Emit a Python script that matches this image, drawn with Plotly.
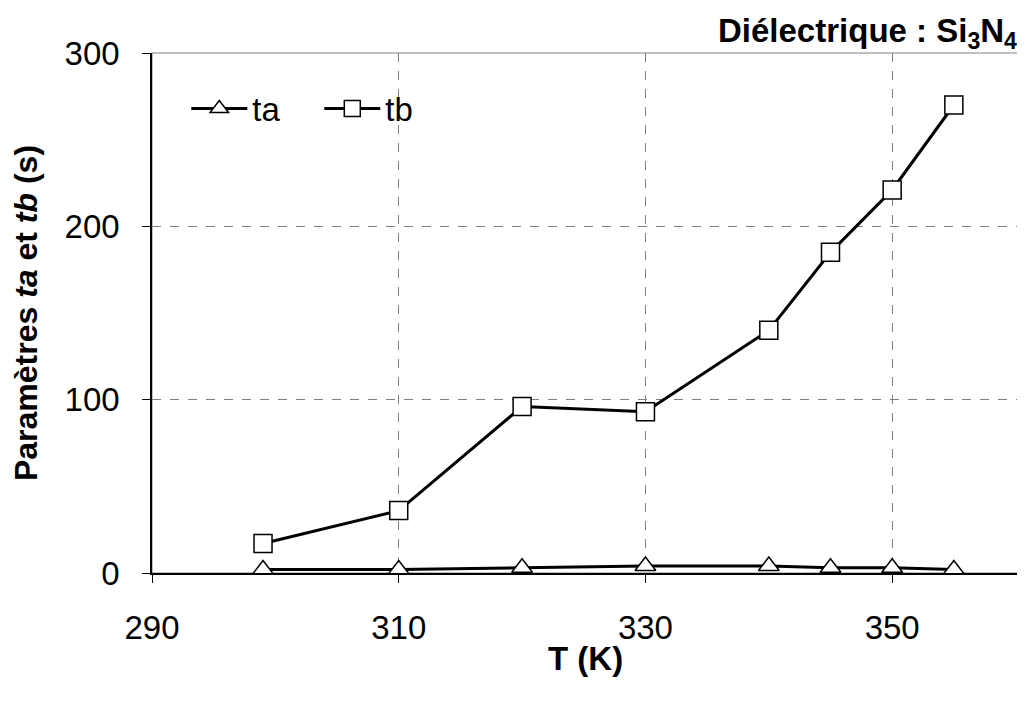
import plotly.graph_objects as go

T = [299, 310, 320, 330, 340, 345, 350, 355]
ta = [2, 2, 3, 4, 4, 3, 3, 2]
tb = [17, 36, 96, 93, 140, 185, 221, 270]

FONT = "Liberation Sans, Arial, sans-serif"

fig = go.Figure()
fig.add_trace(go.Scatter(
    x=T, y=ta, name="ta", mode="lines+markers",
    line=dict(color="black", width=3),
    marker=dict(symbol="triangle-up", size=18, color="white",
                line=dict(color="black", width=1.5)),
))
fig.add_trace(go.Scatter(
    x=T, y=tb, name="tb", mode="lines+markers",
    line=dict(color="black", width=3),
    marker=dict(symbol="square", size=18, color="white",
                line=dict(color="black", width=1.5)),
))

fig.update_layout(
    width=1017, height=698,
    margin=dict(l=144, r=7, t=45, b=133, autoexpand=False),
    paper_bgcolor="white", plot_bgcolor="white",
    font=dict(family=FONT, size=33, color="black"),
    showlegend=True,
    legend=dict(orientation="h", x=0.0396, y=0.947, xanchor="left", yanchor="top",
                font=dict(size=33), bgcolor="rgba(0,0,0,0)", itemwidth=56,
                entrywidth=62, tracegroupgap=0),
    xaxis=dict(
        range=[290, 360.2], dtick=20, tick0=290,
        showgrid=True, gridcolor="#808080", griddash="dash", gridwidth=1,
        showline=True, linecolor="black", linewidth=1.5, mirror=False,
        ticks="outside", ticklen=8, tickcolor="black",
        zeroline=False, automargin=False,
        ticklabelstandoff=17,
        tickfont=dict(size=33),
    ),
    yaxis=dict(
        range=[0, 300], dtick=100,
        showgrid=True, gridcolor="#808080", griddash="dash", gridwidth=1,
        showline=True, linecolor="black", linewidth=1.5,
        ticks="outside", ticklen=8, tickcolor="black",
        zeroline=False, automargin=False,
        ticklabelstandoff=16,
        title=dict(text="<b>Paramètres <i>ta</i> et <i>tb</i> (s)</b>", font=dict(size=32), standoff=17),
        tickfont=dict(size=33),
    ),
    shapes=[dict(type="rect", xref="paper", yref="paper", x0=0, y0=0, x1=1, y1=1,
                 line=dict(color="#808080", width=1), layer="below")],
    annotations=[
        dict(text="<b>Diélectrique : Si<sub>3</sub>N<sub>4</sub></b>",
             xref="paper", yref="paper", x=1.0, y=1.0, xanchor="right", yanchor="bottom",
             showarrow=False, font=dict(size=33), xshift=1, yshift=-3),
        dict(text="<b>T (K)</b>", xref="paper", yref="paper", x=0.5, y=0,
             xanchor="center", yanchor="middle", showarrow=False,
             font=dict(size=33), yshift=-85),
    ],
)

fig.write_html("out.html")
